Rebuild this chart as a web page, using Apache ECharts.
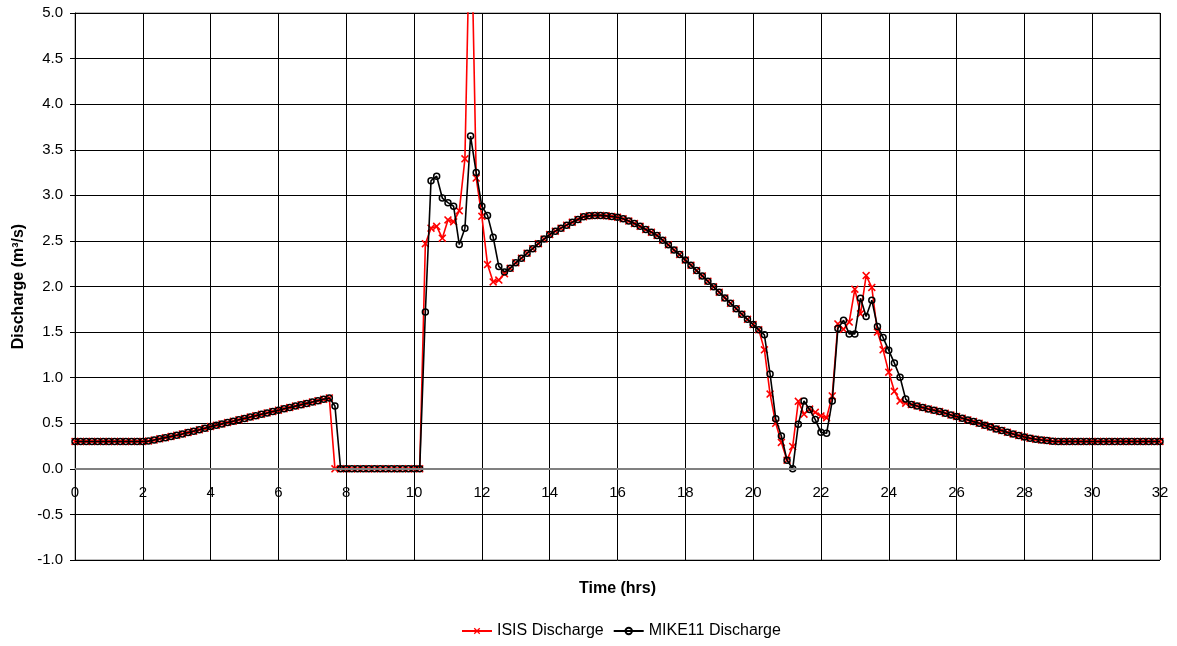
<!DOCTYPE html>
<html>
<head>
<meta charset="utf-8">
<script src="https://cdn.jsdelivr.net/npm/echarts@6/dist/echarts.min.js"></script>
<style>
html,body{margin:0;padding:0;background:#fff;}
#chart{width:1177px;height:646px;}
</style>
</head>
<body>
<div id="chart"></div>
<script>
// Sampling step of the records: 10 minutes (1/6 hour), 0 to 32 hours
const stepHours = 1 / 6;

const xTicks = [0, 2, 4, 6, 8, 10, 12, 14, 16, 18, 20, 22, 24, 26, 28, 30, 32];
const yTicks = [-1.0, -0.5, 0.0, 0.5, 1.0, 1.5, 2.0, 2.5, 3.0, 3.5, 4.0, 4.5, 5.0];
const seriesNames = ['ISIS Discharge', 'MIKE11 Discharge'];
const zeroLine = [0];

const isisDischarge = [
  0.30,0.30,0.30,0.30,0.30,0.30,0.30,0.30,0.30,0.30,0.30,0.30,0.30,
  0.304,0.316,0.329,0.342,0.355,0.369,0.383,0.398,0.413,0.428,0.445,0.463,
  0.478,0.493,0.508,0.523,0.538,0.553,0.568,0.583,0.598,0.613,0.628,0.643,
  0.658,0.673,0.688,0.703,0.718,0.733,0.748,0.763,0.778,
  0,
  0,0,0,0,0,0,0,0,0,0,0,0,0,0,0,
  2.47,2.64,2.66,2.53,2.73,2.71,2.83,3.40,6.4,3.19,2.77,2.24,2.05,2.07,2.14,
  2.20,2.26,2.31,2.365,2.415,2.47,2.52,2.57,2.607,2.64,2.673,2.705,2.735,2.764,2.775,2.78,2.78,2.775,2.768,2.76,
  2.742,2.718,2.69,2.66,2.625,2.596,2.56,2.508,2.457,2.40,2.35,2.29,
  2.234,2.175,2.116,2.058,1.996,1.937,1.875,1.816,1.757,1.696,1.64,1.583,
  1.525,1.305,0.82,0.50,0.29,0.095,0.245,0.74,0.60,0.655,0.62,0.58,
  0.56,0.80,1.59,1.53,1.61,1.97,1.70,2.12,1.99,1.50,1.305,1.06,
  0.85,0.745,0.72,0.705,0.69,0.672,
  0.657,0.643,0.628,0.61,0.59,0.573,
  0.555,0.537,0.518,0.50,0.478,0.46,
  0.438,0.42,0.40,0.383,0.365,0.35,
  0.335,0.324,0.317,0.31,0.302,0.30,
  0.30,0.30,0.30,0.30,0.30,0.30,0.30,0.30,0.30,0.30,0.30,0.30,0.30,0.30,0.30,0.30,0.30,0.30
];

const mike11Discharge = [
  0.30,0.30,0.30,0.30,0.30,0.30,0.30,0.30,0.30,0.30,0.30,0.30,0.30,
  0.304,0.316,0.329,0.342,0.355,0.369,0.383,0.398,0.413,0.428,0.445,0.463,
  0.478,0.493,0.508,0.523,0.538,0.553,0.568,0.583,0.598,0.613,0.628,0.643,
  0.658,0.673,0.688,0.703,0.718,0.733,0.748,0.763,0.778,
  0.69,
  0,0,0,0,0,0,0,0,0,0,0,0,0,0,0,
  1.72,3.16,3.21,2.97,2.92,2.88,2.46,2.64,3.65,3.25,2.88,2.78,2.54,2.22,2.16,
  2.20,2.26,2.31,2.365,2.415,2.47,2.52,2.57,2.607,2.64,2.673,2.705,2.735,2.764,2.775,2.78,2.78,2.775,2.768,2.76,
  2.742,2.718,2.69,2.66,2.625,2.596,2.56,2.508,2.457,2.40,2.35,2.29,
  2.234,2.175,2.116,2.058,1.996,1.937,1.875,1.816,1.757,1.696,1.64,1.583,
  1.525,1.47,1.04,0.55,0.36,0.095,0.0,0.49,0.745,0.65,0.54,0.40,
  0.39,0.745,1.54,1.63,1.48,1.48,1.87,1.67,1.85,1.56,1.44,1.30,
  1.16,1.005,0.765,0.705,0.69,0.672,
  0.657,0.643,0.628,0.61,0.59,0.573,
  0.555,0.537,0.518,0.50,0.478,0.46,
  0.438,0.42,0.40,0.383,0.365,0.35,
  0.335,0.324,0.317,0.31,0.302,0.30,
  0.30,0.30,0.30,0.30,0.30,0.30,0.30,0.30,0.30,0.30,0.30,0.30,0.30,0.30,0.30,0.30,0.30,0.30
];

function pairs(values) {
  return values.map((v, i) => [i * stepHours, v]);
}

const crossSymbol = 'path://M0,1.4L1.4,0L5,3.6L8.6,0L10,1.4L6.4,5L10,8.6L8.6,10L5,6.4L1.4,10L0,8.6L3.6,5Z';
const font = 'Liberation Sans, Arial, sans-serif';

const chart = echarts.init(document.getElementById('chart'));
chart.setOption({
  animation: false,
  textStyle: { fontFamily: font, color: '#000' },
  grid: {
    left: 75, right: 17, top: 13, bottom: 86,
    outerBoundsMode: 'none', containLabel: false,
    show: true, borderColor: '#808080', borderWidth: 1
  },
  legend: {
    data: seriesNames,
    left: 461, top: 623,
    itemWidth: 30, itemHeight: 8, itemGap: 9,
    padding: 0,
    textStyle: { fontSize: 16, color: '#000', fontFamily: font }
  },
  xAxis: {
    type: 'value',
    min: xTicks[0], max: xTicks[xTicks.length - 1], interval: 2,
    axisLine: { show: false, onZero: false },
    axisTick: { show: false },
    axisLabel: { fontSize: 15, color: '#000', margin: -75, fontFamily: font },
    splitLine: { show: true, lineStyle: { color: '#000', width: 1 } },
    name: 'Time (hrs)',
    nameLocation: 'middle',
    nameGap: 21,
    nameTextStyle: { fontWeight: 'bold', fontSize: 16, color: '#000', fontFamily: font }
  },
  yAxis: {
    type: 'value',
    min: yTicks[0], max: yTicks[yTicks.length - 1], interval: 0.5,
    axisLine: { show: true, lineStyle: { color: '#000', width: 1 } },
    axisTick: { show: true, length: 5, lineStyle: { color: '#000' } },
    axisLabel: { fontSize: 15, color: '#000', margin: 12, fontFamily: font, formatter: v => v.toFixed(1) },
    splitLine: { show: true, lineStyle: { color: '#000', width: 1 } },
    name: 'Discharge (m³/s)',
    nameLocation: 'middle',
    nameRotate: 90,
    nameGap: 44,
    nameTextStyle: { fontWeight: 'bold', fontSize: 16, color: '#000', fontFamily: font }
  },
  series: [
    {
      name: seriesNames[0],
      type: 'line',
      data: pairs(isisDischarge),
      symbol: crossSymbol,
      symbolSize: 8,
      clip: true,
      lineStyle: { color: '#ff0000', width: 1.6 },
      itemStyle: { color: '#ff0000' },
      emphasis: { disabled: true },
      markLine: {
        silent: true,
        symbol: ['none', 'none'],
        label: { show: false },
        lineStyle: { color: '#808080', width: 2, type: 'solid' },
        data: zeroLine.map(v => ({ yAxis: v }))
      },
      z: 2
    },
    {
      name: seriesNames[1],
      type: 'line',
      data: pairs(mike11Discharge),
      symbol: 'circle',
      symbolSize: 6,
      clip: true,
      lineStyle: { color: '#000000', width: 1.6 },
      itemStyle: { color: 'rgba(0,0,0,0)', borderColor: '#000000', borderWidth: 1.5 },
      emphasis: { disabled: true },
      z: 3
    }
  ]
});
</script>
</body>
</html>
